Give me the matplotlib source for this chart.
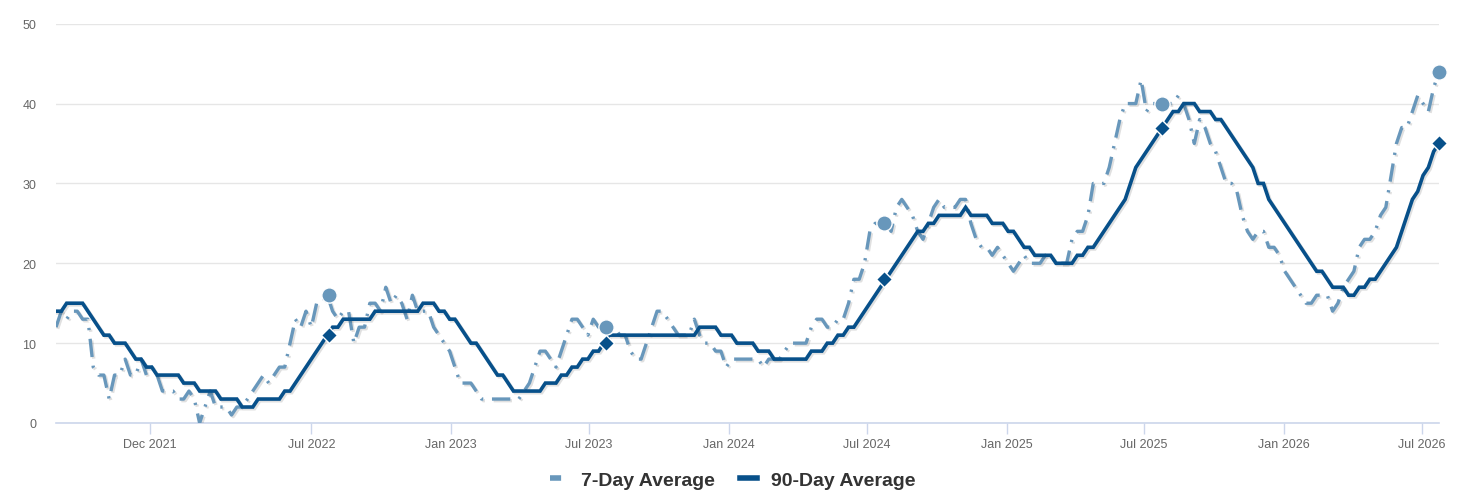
import matplotlib
matplotlib.use("Agg")
import matplotlib.pyplot as plt
import matplotlib.patheffects as pe
from matplotlib.lines import Line2D
import pandas as pd

# weekly points, last one on 24 Jul 2026
week_end = "2026-07-24"
n_weeks = 261

avg_7 = [
    12, 14, 13, 14, 14, 13, 13, 7, 6, 6,
    3, 6, 6, 8, 6, 6, 8, 6, 7, 6,
    4, 4, 4, 3, 3, 4, 3, 0, 2, 4,
    2, 2, 2, 1, 2, 2, 3, 4, 5, 6,
    5, 6, 7, 7, 10, 13, 12, 14, 12, 15,
    15, 16, 14, 13, 14, 14, 10, 12, 12, 15,
    15, 14, 17, 15, 16, 15, 13, 16, 14, 14,
    14, 12, 11, 10, 9, 7, 5, 5, 5, 4,
    3, 3, 3, 3, 3, 3, 3, 3, 4, 5,
    7, 9, 9, 8, 7, 9, 11, 13, 13, 12,
    11, 13, 12, 12, 12, 12, 11, 11, 9, 8,
    8, 10, 12, 14, 14, 13, 12, 11, 11, 11,
    13, 11, 10, 10, 9, 9, 7, 8, 8, 8,
    8, 8, 8, 7, 8, 8, 8, 9, 10, 10,
    10, 10, 12, 13, 13, 12, 12, 13, 13, 15,
    18, 18, 20, 24, 25, 25, 25, 24, 27, 28,
    27, 26, 24, 23, 25, 27, 28, 27, 27, 27,
    28, 28, 25, 23, 22, 22, 21, 22, 21, 20,
    19, 20, 21, 20, 20, 20, 21, 21, 20, 20,
    20, 23, 24, 24, 26, 30, 30, 30, 32, 35,
    38, 40, 40, 40, 43, 39, 40, 40, 40, 40,
    40, 41, 40, 38, 35, 38, 37, 35, 34, 32,
    30, 30, 29, 26, 24, 23, 24, 24, 22, 22,
    21, 19, 18, 17, 16, 15, 15, 16, 16, 16,
    14, 15, 17, 18, 19, 22, 23, 23, 24, 26,
    27, 31, 35, 37, 37, 39, 41, 40, 39, 42, 44,
]

avg_90 = [
    14, 14, 15, 15, 15, 15, 14, 13, 12, 11,
    11, 10, 10, 10, 9, 8, 8, 7, 7, 6,
    6, 6, 6, 6, 5, 5, 5, 4, 4, 4,
    4, 3, 3, 3, 3, 2, 2, 2, 3, 3,
    3, 3, 3, 4, 4, 5, 6, 7, 8, 9,
    10, 11, 12, 12, 13, 13, 13, 13, 13, 13,
    14, 14, 14, 14, 14, 14, 14, 14, 14, 15,
    15, 15, 14, 14, 13, 13, 12, 11, 10, 10,
    9, 8, 7, 6, 6, 5, 4, 4, 4, 4,
    4, 4, 5, 5, 5, 6, 6, 7, 7, 8,
    8, 9, 9, 10, 11, 11, 11, 11, 11, 11,
    11, 11, 11, 11, 11, 11, 11, 11, 11, 11,
    11, 12, 12, 12, 12, 11, 11, 11, 10, 10,
    10, 10, 9, 9, 9, 8, 8, 8, 8, 8,
    8, 8, 9, 9, 9, 10, 10, 11, 11, 12,
    12, 13, 14, 15, 16, 17, 18, 19, 20, 21,
    22, 23, 24, 24, 25, 25, 26, 26, 26, 26,
    26, 27, 26, 26, 26, 26, 25, 25, 25, 24,
    24, 23, 22, 22, 21, 21, 21, 21, 20, 20,
    20, 20, 21, 21, 22, 22, 23, 24, 25, 26,
    27, 28, 30, 32, 33, 34, 35, 36, 37, 38,
    39, 39, 40, 40, 40, 39, 39, 39, 38, 38,
    37, 36, 35, 34, 33, 32, 30, 30, 28, 27,
    26, 25, 24, 23, 22, 21, 20, 19, 19, 18,
    17, 17, 17, 16, 16, 17, 17, 18, 18, 19,
    20, 21, 22, 24, 26, 28, 29, 31, 32, 34, 35,
]

# same-day markers each year
mark_dates = ["2022-07-24", "2023-07-24", "2024-07-24", "2025-07-24", "2026-07-24"]
mark_7 = [16, 12, 25, 40, 44]
mark_90 = [11, 10, 18, 37, 35]

tick_dates = ["2021-12-01", "2022-07-01", "2023-01-01", "2023-07-01", "2024-01-01",
              "2024-07-01", "2025-01-01", "2025-07-01", "2026-01-01", "2026-07-01"]
tick_labels = ["Dec 2021", "Jul 2022", "Jan 2023", "Jul 2023", "Jan 2024",
               "Jul 2024", "Jan 2025", "Jul 2025", "Jan 2026", "Jul 2026"]

c7 = "#6897bb"
c90 = "#07508a"

plt.rcParams["font.family"] = ["Liberation Sans", "DejaVu Sans"]

dates = pd.date_range(end=week_end, periods=n_weeks, freq="7D")
assert len(avg_7) == n_weeks and len(avg_90) == n_weeks

fig = plt.figure(figsize=(14.65, 5.02), dpi=100)
ax = fig.add_axes([56 / 1465, 1 - 424 / 502, (1439 - 56) / 1465, (424 - 24.7) / 502])

shadow = [pe.SimpleLineShadow(offset=(1.2, -1.2), shadow_color="#000000", alpha=0.12), pe.Normal()]

ax.plot(dates, avg_7, color=c7, lw=2.4, linestyle=(0, (5.5, 2.6, 0.7, 2.6)),
        zorder=3, path_effects=shadow)
ax.plot(dates, avg_90, color=c90, lw=2.6, solid_joinstyle="miter", zorder=4,
        path_effects=shadow)

md = pd.to_datetime(mark_dates)
ax.plot(md, mark_7, linestyle="none", marker="o", markersize=11, color=c7,
        markeredgecolor="white", markeredgewidth=1, zorder=5, clip_on=False)
ax.plot(md, mark_90, linestyle="none", marker="D", markersize=8.5, color=c90,
        markeredgecolor="white", markeredgewidth=1, zorder=6, clip_on=False)

ax.set_xlim(dates[0], dates[-1])
ax.set_ylim(0, 50)
ax.set_yticks(range(0, 51, 10))
ax.yaxis.grid(True, color="#e6e6e6", lw=1)
ax.set_axisbelow(True)

ax.set_xticks(pd.to_datetime(tick_dates))
ax.set_xticklabels(tick_labels)

for s in ["top", "right", "left"]:
    ax.spines[s].set_visible(False)
ax.spines["bottom"].set_color("#ccd6eb")
ax.spines["bottom"].set_linewidth(1.2)

ax.tick_params(axis="x", length=8, width=1, color="#ccd6eb", labelsize=9,
               labelcolor="#666666", pad=3)
ax.tick_params(axis="y", length=0, labelsize=9, labelcolor="#666666", pad=14)

handles = [
    Line2D([], [], color=c7, lw=4, linestyle=(0, (2.0, 10))),
    Line2D([], [], color=c90, lw=4),
]
fig.legend(handles, ["7-Day Average", "90-Day Average"], loc="center",
           bbox_to_anchor=(0.5, 1 - 481 / 502), ncol=2, frameon=False,
           handlelength=0.9, handletextpad=0.7, columnspacing=1.3,
           prop={"weight": "bold", "size": 14}, labelcolor="#333333")

fig.savefig("out.png", dpi=100, facecolor="white")
